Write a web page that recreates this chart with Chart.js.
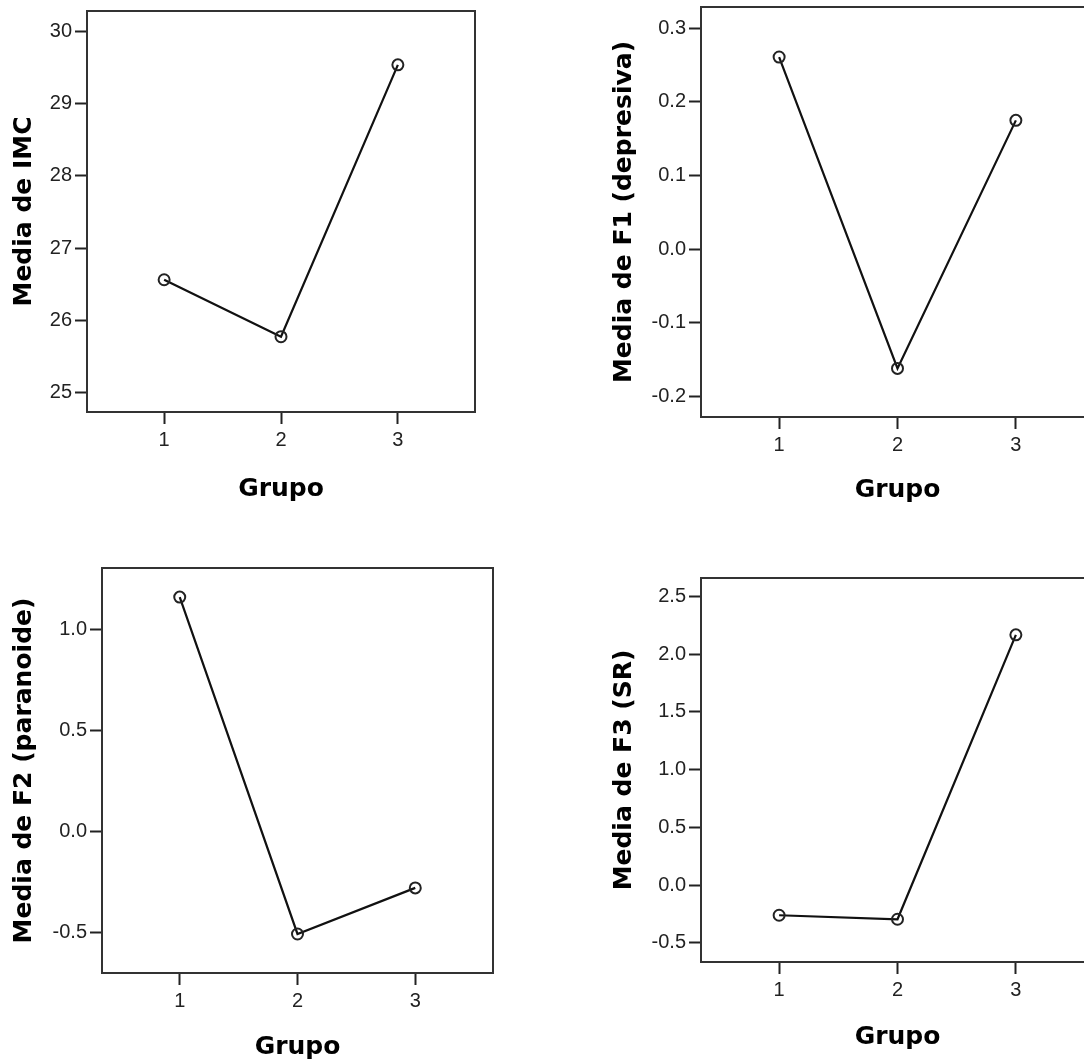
<!DOCTYPE html>
<html>
<head>
<meta charset="utf-8">
<script src="https://cdn.jsdelivr.net/npm/chart.js@4.4.1/dist/chart.umd.min.js"></script>
<style>
  html, body { margin: 0; padding: 0; background: #fff; overflow: hidden; }
  body { width: 1084px; height: 1063px; position: relative; }
  canvas { position: absolute; }
</style>
</head>
<body>
<canvas id="imc" width="485" height="513" style="left:0px;top:-9px"></canvas>
<canvas id="f1" width="504" height="518" style="left:600px;top:-13px"></canvas>
<canvas id="f2" width="503" height="514" style="left:0px;top:548px"></canvas>
<canvas id="f3" width="504" height="494" style="left:600px;top:558px"></canvas>
<script>
// group categories
var grupos = [1, 2, 3];

// means per group
var mediaIMC = [26.56, 25.77, 29.54];
var mediaF1 = [0.261, -0.162, 0.175];
var mediaF2 = [1.158, -0.508, -0.280];
var mediaF3 = [-0.260, -0.295, 2.168];

// y tick labels
var ticksIMC = [25, 26, 27, 28, 29, 30];
var ticksF1 = [-0.2, -0.1, 0.0, 0.1, 0.2, 0.3];
var ticksF2 = [-0.5, 0.0, 0.5, 1.0];
var ticksF3 = [-0.5, 0.0, 0.5, 1.0, 1.5, 2.0, 2.5];

var boxPlugin = {
    id: 'box',
    afterDraw: function(chart) {
        var a = chart.chartArea;
        var ctx = chart.ctx;
        ctx.save();
        ctx.strokeStyle = '#333';
        ctx.lineWidth = 2;
        ctx.strokeRect(a.left, a.top, a.right - a.left, a.bottom - a.top);
        ctx.restore();
    }
};

function makeChart(id, values, yTicks, yMin, yMax, decimals, yTitle, yWidth, xHeight) {
    var ctx = document.getElementById(id).getContext('2d');
    return new Chart(ctx, {
        type: 'line',
        data: {
            datasets: [{
                data: grupos.map(function(g, i) { return {x: g, y: values[i]}; }),
                borderColor: '#111',
                borderWidth: 2.2,
                pointRadius: 5.5,
                pointBorderWidth: 2,
                pointBorderColor: '#222',
                pointBackgroundColor: 'rgba(0,0,0,0)',
                tension: 0
            }]
        },
        options: {
            responsive: false,
            animation: false,
            layout: { padding: { top: 20, right: 10, left: 0, bottom: 0 } },
            plugins: { legend: { display: false }, tooltip: { enabled: false } },
            scales: {
                x: {
                    type: 'linear',
                    min: 0.34,
                    max: 3.66,
                    afterBuildTicks: function(s) { s.ticks = grupos.map(function(v) { return {value: v}; }); },
                    afterFit: function(s) { s.height = xHeight; },
                    grid: { drawOnChartArea: false, tickLength: 12, tickWidth: 2, tickColor: '#222' },
                    border: { color: '#333', width: 2 },
                    ticks: {
                        padding: 4,
                        color: '#222',
                        font: { family: '"Liberation Sans", Arial, sans-serif', size: 20 },
                        callback: function(v) { return String(v); }
                    },
                    title: {
                        display: true,
                        text: 'Grupo',
                        color: '#000',
                        padding: { top: 0, bottom: 0 },
                        font: { family: '"DejaVu Sans", sans-serif', size: 25, weight: 'bold' }
                    }
                },
                y: {
                    type: 'linear',
                    min: yMin,
                    max: yMax,
                    afterBuildTicks: function(s) { s.ticks = yTicks.map(function(v) { return {value: v}; }); },
                    afterFit: function(s) { s.width = yWidth; },
                    grid: { drawOnChartArea: false, tickLength: 12, tickWidth: 2, tickColor: '#222' },
                    border: { color: '#333', width: 2 },
                    ticks: {
                        padding: 3,
                        color: '#222',
                        font: { family: '"Liberation Sans", Arial, sans-serif', size: 20 },
                        callback: function(v) { return v.toFixed(decimals); }
                    },
                    title: {
                        display: true,
                        text: yTitle,
                        color: '#000',
                        padding: { top: 9.5, bottom: 0 },
                        font: { family: '"DejaVu Sans", sans-serif', size: 25, weight: 'bold' }
                    }
                }
            }
        },
        plugins: [boxPlugin]
    });
}

makeChart('imc', mediaIMC, ticksIMC, 24.726, 30.287, 0, 'Media de IMC', 87, 92);
makeChart('f1', mediaF1, ticksF1, -0.228, 0.329, 1, 'Media de F1 (depresiva)', 101, 88);
makeChart('f2', mediaF2, ticksF2, -0.701, 1.302, 1, 'Media de F2 (paranoide)', 102, 89);
makeChart('f3', mediaF3, ticksF3, -0.665, 2.66, 1, 'Media de F3 (SR)', 101, 90);
</script>
</body>
</html>
